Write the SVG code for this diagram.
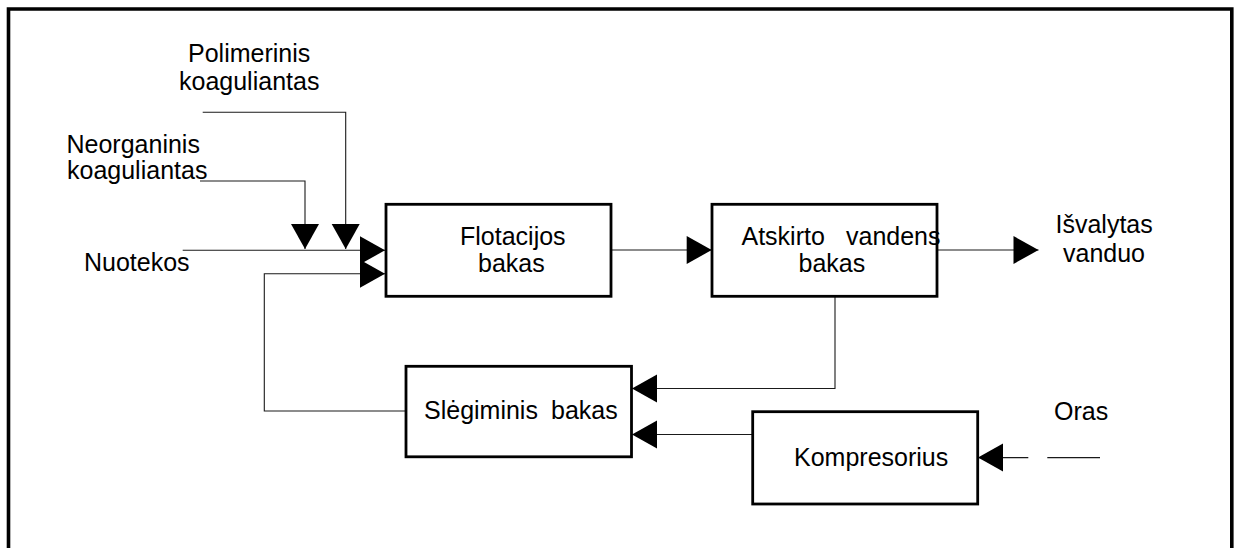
<svg xmlns="http://www.w3.org/2000/svg" width="1234" height="548" viewBox="0 0 1234 548">
  <style>
    text { font-family: "Liberation Sans", Arial, sans-serif; font-size: 25px; fill: #000; }
    .box { fill: #fff; stroke: #000; stroke-width: 2.8; }
    .wire { fill: none; stroke: #1a1a1a; stroke-width: 1.1; }
    .frame { fill: none; stroke: #000; stroke-width: 3.6; }
  </style>
  <defs>
    <marker id="arrow" markerUnits="userSpaceOnUse" markerWidth="26" markerHeight="28" refX="25" refY="14" orient="auto" overflow="visible">
      <path d="M0,0 L25,14 L0,28 Z" fill="#000"/>
    </marker>
  </defs>

  <!-- open page frame -->
  <path class="frame" d="M8.5,548 V9 H1231.8 V548"/>

  <!-- connectors -->
  <g id="connectors">
    <path class="wire" d="M202.7,112.3 H345.7 V249" marker-end="url(#arrow)"/>
    <path class="wire" d="M200,181 H305 V249" marker-end="url(#arrow)"/>
    <path class="wire" d="M182.7,250.3 H385" marker-end="url(#arrow)"/>
    <path class="wire" d="M406,411 H264.3 V273.8 H385" marker-end="url(#arrow)"/>
    <path class="wire" d="M611,250 H711.7" marker-end="url(#arrow)"/>
    <path class="wire" d="M937,250 H1038.5" marker-end="url(#arrow)"/>
    <path class="wire" d="M835,297 V388.5 H632" marker-end="url(#arrow)"/>
    <path class="wire" d="M752.7,434.5 H632" marker-end="url(#arrow)"/>
    <path class="wire" d="M1028.3,457.6 H978" marker-end="url(#arrow)"/>
    <path class="wire" d="M1047.3,457.6 H1100"/>
  </g>

  <!-- input labels -->
  <g id="polimerinis">
    <text x="188" y="62">Polimerinis</text>
    <text x="179" y="90">koaguliantas</text>
  </g>
  <g id="neorganinis">
    <text x="66.5" y="152.7">Neorganinis</text>
    <text x="67" y="179">koaguliantas</text>
  </g>
  <g id="nuotekos">
    <text x="84" y="270.7">Nuotekos</text>
  </g>

  <!-- process units -->
  <g id="flotacijos-bakas">
    <rect class="box" x="386" y="204.3" width="225" height="92"/>
    <text x="460" y="245">Flotacijos</text>
    <text x="478" y="272">bakas</text>
  </g>
  <g id="atskirto-vandens-bakas">
    <rect class="box" x="712" y="204.3" width="225" height="92"/>
    <text y="244.5"><tspan x="741.5">Atskirto</tspan><tspan x="846">vandens</tspan></text>
    <text x="798.5" y="272">bakas</text>
  </g>
  <g id="isvalytas-vanduo">
    <text x="1055.5" y="233.3">Išvalytas</text>
    <text x="1063" y="261.7">vanduo</text>
  </g>
  <g id="slegiminis-bakas">
    <rect class="box" x="406" y="366.3" width="225.5" height="90.5"/>
    <text y="419.3"><tspan x="424">Slėgiminis</tspan><tspan x="551">bakas</tspan></text>
  </g>
  <g id="kompresorius">
    <rect class="box" x="752.7" y="411.7" width="225" height="92.3"/>
    <text x="794" y="465.5">Kompresorius</text>
  </g>
  <g id="oras">
    <text x="1054" y="420">Oras</text>
  </g>
</svg>
